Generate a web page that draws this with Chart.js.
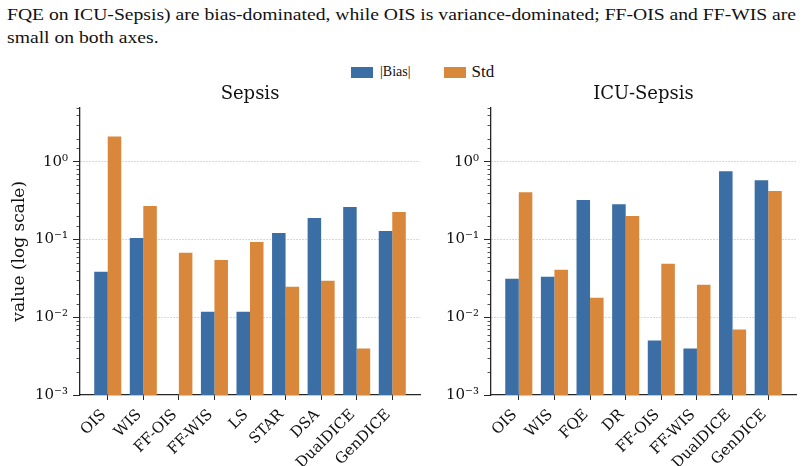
<!DOCTYPE html>
<html>
<head>
<meta charset="utf-8">
<script src="https://cdn.jsdelivr.net/npm/chart.js"></script>
<style>
    body { margin: 0; width: 804px; height: 466px; background: #fff; position: relative; overflow: hidden; }
    .caption { position: absolute; left: 7px; top: 3px; font-family: "Liberation Serif", serif; font-size: 17px; line-height: 23px; color: #111; white-space: nowrap; transform: scaleX(1.155); transform-origin: 0 0; }
    .legend { position: absolute; top: 62px; left: 351px; display: flex; align-items: center; font-family: "Liberation Serif", serif; color: #111; }
    .sw { width: 22px; height: 11px; display: inline-block; margin-right: 7px; }
    canvas { position: absolute; }
</style>
</head>
<body>
<div class="caption">FQE on ICU-Sepsis) are bias-dominated, while OIS is variance-dominated; FF-OIS and FF-WIS are<br>small on both axes.</div>
<div class="legend">
    <span class="sw" style="background:#3b6ea5"></span><span style="font-size:14px; margin-right:33px">|Bias|</span>
    <span class="sw" style="background:#d9873a; margin-right:6px"></span><span style="font-size:17px">Std</span>
</div>
<canvas id="sepsis" width="422" height="382" style="left:0; top:84px"></canvas>
<canvas id="icu" width="370" height="382" style="left:430px; top:84px"></canvas>
<script>
// values
const sepsisMethods = ['OIS', 'WIS', 'FF-OIS', 'FF-WIS', 'LS', 'STAR', 'DSA', 'DualDICE', 'GenDICE'];
const sepsisBias = [0.0385, 0.105, null, 0.0118, 0.0118, 0.122, 0.19, 0.262, 0.129];
const sepsisStd = [2.13, 0.27, 0.0675, 0.0548, 0.0933, 0.0247, 0.0295, 0.00396, 0.226];

const icuMethods = ['OIS', 'WIS', 'FQE', 'DR', 'FF-OIS', 'FF-WIS', 'DualDICE', 'GenDICE'];
const icuBias = [0.0313, 0.0332, 0.323, 0.286, 0.00502, 0.00396, 0.759, 0.582];
const icuStd = [0.408, 0.0408, 0.0179, 0.201, 0.0488, 0.0262, 0.00695, 0.421];

const seriesNames = ['|Bias|', 'Std'];
const yMin = 1e-3, yMax = 5;

const BLUE = '#3b6ea5', ORANGE = '#d9873a', INK = '#262626';
const SUP = {'0': '⁰', '1': '¹', '2': '²', '3': '³', '-': '⁻'};

function isDecade(v) {
    const l = Math.log10(v);
    return Math.abs(l - Math.round(l)) < 1e-6;
}
function powLabel(v) {
    const e = String(Math.round(Math.log10(v)));
    return '10' + e.split('').map(c => SUP[c]).join('');
}

// short minor ticks on the log axis
const minorTicks = {
    id: 'minorTicks',
    afterDraw(chart) {
        const y = chart.scales.y, ctx = chart.ctx;
        ctx.save();
        ctx.strokeStyle = INK;
        ctx.lineWidth = 0.8;
        y.ticks.forEach(t => {
            if (isDecade(t.value)) return;
            const py = Math.round(y.getPixelForValue(t.value)) + 0.5;
            ctx.beginPath();
            ctx.moveTo(y.right - 3.5, py);
            ctx.lineTo(y.right, py);
            ctx.stroke();
        });
        ctx.restore();
    }
};

function makeChart(id, title, methods, bias, std, yWidth, yTitle, padRight) {
    const pts = arr => arr.map((v, i) => ({x: i, y: v}));
    return new Chart(document.getElementById(id), {
        type: 'bar',
        data: {
            datasets: [
                {label: seriesNames[0], data: pts(bias), backgroundColor: BLUE, borderWidth: 0},
                {label: seriesNames[1], data: pts(std), backgroundColor: ORANGE, borderWidth: 0}
            ]
        },
        options: {
            responsive: false,
            animation: false,
            categoryPercentage: 0.76,
            barPercentage: 1.0,
            layout: {padding: {left: 0, right: padRight, top: 0, bottom: 0}},
            plugins: {
                legend: {display: false},
                tooltip: {enabled: false},
                title: {
                    display: true, text: title, fullSize: false, color: '#111',
                    font: {family: 'DejaVu Serif', size: 18, weight: 'normal'},
                    padding: {top: 0, bottom: 2}
                }
            },
            scales: {
                x: {
                    type: 'linear',
                    offset: false,
                    bounds: 'data',
                    min: -0.78,
                    max: methods.length - 1 + 0.78,
                    afterBuildTicks: s => { s.ticks = methods.map((m, i) => ({value: i})); },
                    afterFit: s => { s.height = 71; },
                    grid: {offset: false, drawOnChartArea: false, drawTicks: true, tickLength: 5, tickColor: INK, tickWidth: 1},
                    border: {color: INK, width: 1.3},
                    ticks: {
                        autoSkip: false, minRotation: 45, maxRotation: 45, padding: 6, labelOffset: -4,
                        color: '#111', font: {family: 'DejaVu Serif', size: 15},
                        callback: v => methods[v]
                    }
                },
                y: {
                    type: 'logarithmic',
                    min: yMin,
                    max: yMax,
                    afterFit: s => { s.width = yWidth; },
                    title: {
                        display: yTitle, text: 'value (log scale)', color: '#111',
                        font: {family: 'DejaVu Serif', size: 17}, padding: {top: 9, bottom: 0}
                    },
                    grid: {
                        drawTicks: true, tickLength: 7, tickWidth: 1,
                        color: c => (c.tick && isDecade(c.tick.value) && c.tick.value > yMin * 1.5) ? '#cccccc' : 'rgba(0,0,0,0)',
                        tickColor: c => (c.tick && isDecade(c.tick.value)) ? INK : 'rgba(0,0,0,0)',
                        lineWidth: 1
                    },
                    border: {color: INK, width: 1.3, dash: [1.5, 1.5]},
                    ticks: {
                        autoSkip: false, padding: 5, color: '#111',
                        font: {family: 'DejaVu Serif', size: 15},
                        callback: v => isDecade(v) ? powLabel(v) : ''
                    }
                }
            }
        },
        plugins: [minorTicks]
    });
}

makeChart('sepsis', 'Sepsis', sepsisMethods, sepsisBias, sepsisStd, 80, true, 2);
makeChart('icu', 'ICU-Sepsis', icuMethods, icuBias, icuStd, 61, false, 4);
</script>
</body>
</html>
